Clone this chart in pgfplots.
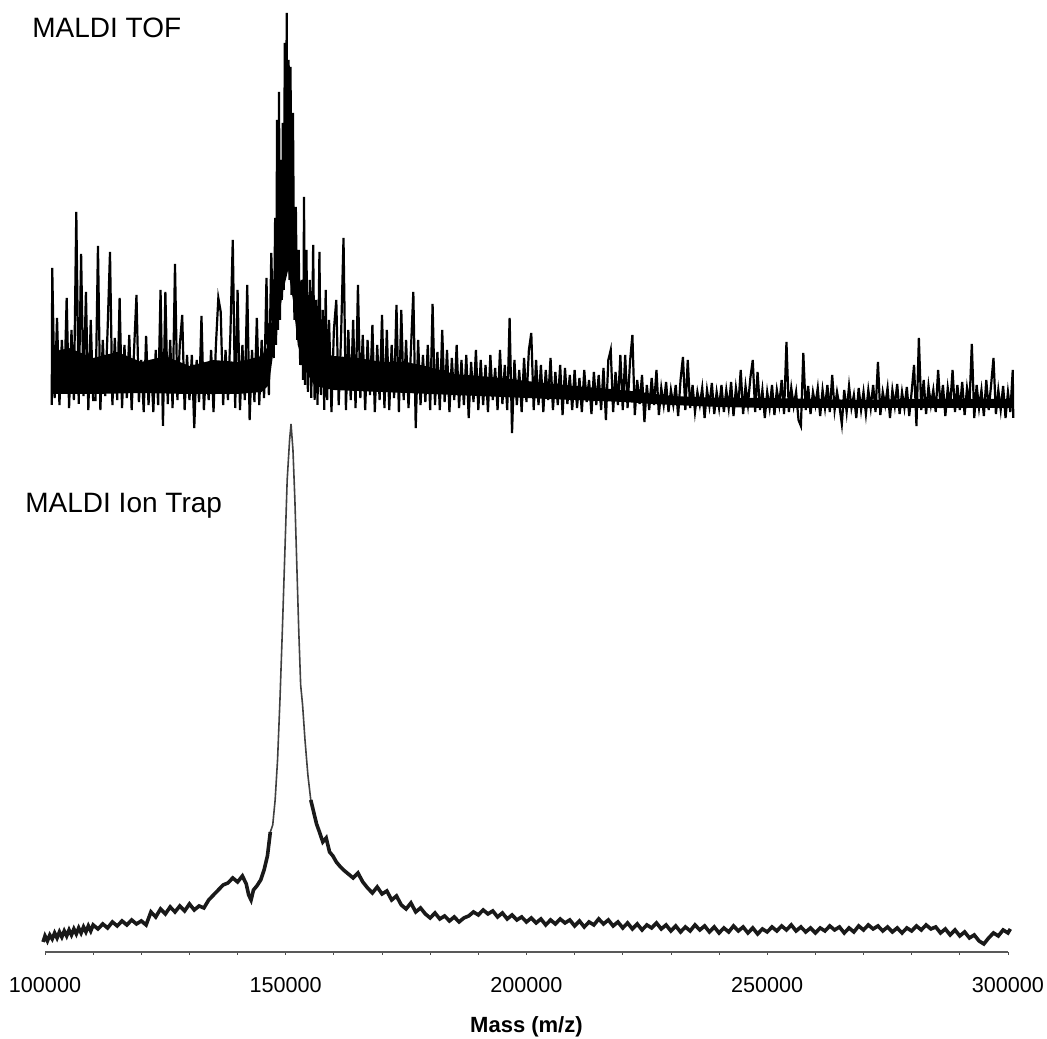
\documentclass[border=0pt]{standalone}
\usepackage{pgfplots}
\pgfplotsset{compat=1.18}
\usepackage{fontspec}
\setmainfont{Liberation Sans}
\begin{document}
\begin{tikzpicture}
\begin{axis}[
  scale only axis,
  width=481.5pt, height=476pt,
  xmin=100000, xmax=300000,
  ymin=0, ymax=952,
  y dir=reverse,
  clip=false,
  axis x line=bottom,
  axis y line=none,
  x axis line style={-, line width=1pt, draw=black!65},
  xtick={100000,150000,200000,250000,300000},
  xticklabels={100000,150000,200000,250000,300000},
  scaled x ticks=false,
  minor xtick={110000,120000,130000,140000,160000,170000,180000,190000,210000,220000,230000,240000,260000,270000,280000,290000},
  tick align=outside,
  major tick length=1.5pt, minor tick length=1.5pt,
  tick style={black!70, line width=0.4pt},
  xticklabel style={font=\fontsize{10.8}{12}\selectfont, anchor=north, inner sep=0pt, yshift=-11pt},
  ytick=\empty,
]
% MALDI TOF: dense core band (upper envelope, then lower envelope)
\addplot[fill=black, draw=none] coordinates {
(101400,352)(105000,348)(110000,358)(115000,352)(120000,362)(125000,356)(130000,366)(135000,360)(140000,362)(145000,356)(146500,345)(147500,300)(148500,200)(149500,150)(150200,110)(151000,150)(152000,230)(153000,300)(154000,335)(156000,352)(160000,356)(165000,358)(170000,362)(175000,362)(180000,367)(185000,374)(190000,376)(195000,378)(200000,381)(210000,386)(220000,390)(230000,396)(240000,398)(250000,398)(260000,399)(270000,400)(280000,399)(290000,399)(300000,399)(301100,399)
(301100,408)(290000,408)(280000,408)(270000,408)(260000,408)(250000,408)(240000,407)(230000,405)(220000,402)(210000,400)(200000,398)(190000,396)(180000,394)(170000,392)(160000,390)(156000,386)(154000,370)(152500,345)(151500,300)(150500,270)(149500,290)(148500,320)(147500,350)(146500,385)(145000,392)(140000,394)(130000,394)(120000,393)(110000,394)(101400,394)
} -- cycle;
% MALDI TOF
\addplot[black, line width=1.1pt, line join=miter] coordinates {
(101400,405)(101500,268)(102000,398)(102500,318)(103000,405)(103500,340)(104000,392)(104500,298)(105000,408)(105500,330)(106000,400)(106500,212)(107000,404)(107500,254)(108000,396)(108500,292)(109000,410)(109500,320)(110000,400)
(110500,400)(111000,246)(111500,410)(112000,340)(112500,396)(113000,330)(113500,252)(114000,405)(114500,338)(115000,400)(115500,298)(116000,408)(116500,345)(117000,398)(117500,335)(118000,410)(118500,350)(119000,295)(119500,402)(120000,360)
(120500,412)(121000,336)(121500,405)(122000,360)(122500,412)(123000,350)(123500,405)(124000,290)(124500,426)(125000,292)(125500,404)(126000,340)(126500,408)(127000,264)(127500,400)(128000,345)(128500,315)(129000,410)(129500,355)(130000,400)
(130500,355)(131000,428)(131500,360)(132000,402)(132500,316)(133000,410)(133500,365)(134000,400)(134500,350)(135000,412)(135500,345)(136000,298)(136500,312)(137000,405)(137500,350)(138000,400)(138500,335)(139000,240)(139500,408)(140000,290)
(140500,410)(141000,345)(141500,400)(142000,285)(142500,420)(143000,350)(143500,402)(144000,318)(144500,405)(145000,340)(145500,398)(146000,278)(146500,395)(147000,253)(147500,358)(147800,218)(148000,345)(148200,120)(148400,330)(148600,92)(148800,320)(149000,160)(149200,300)(149400,123)(149600,290)(149800,43)(150000,275)(150200,13)(150400,260)(150600,60)(150800,280)(151000,67)(151200,295)(151500,113)(151800,320)(152100,207)(152400,340)(152700,250)(153000,365)(153300,280)(153600,380)
(153800,197)(154000,385)(154300,250)(154600,392)(155000,280)(155300,398)(155700,245)(156000,400)(156300,300)(156600,405)(157000,252)(157300,395)(157700,310)(158000,410)(158300,290)(158600,400)(159000,320)(159500,412)(160000,330)
(160500,300)(161000,405)(161500,335)(162000,238)(162500,410)(163000,330)(163500,400)(164000,320)(164500,408)(165000,285)(165500,398)(166000,335)(166500,410)(167000,340)(167500,395)(168000,325)(168500,412)(169000,345)(169500,400)(170000,315)
(170500,408)(171000,330)(171500,410)(172000,345)(172500,398)(173000,305)(173500,412)(174000,310)(174500,400)(175000,340)(175500,408)(176000,350)(176500,292)(177000,428)(177500,340)(178000,405)(178500,355)(179000,402)(179500,345)(180000,410)
(180500,304)(181000,405)(181500,352)(182000,410)(182500,330)(183000,402)(183500,350)(184000,412)(184500,358)(185000,400)(185500,345)(186000,408)(186500,360)(187000,405)(187500,355)(188000,418)(188500,362)(189000,402)(189500,350)(190000,410)
(190500,360)(191000,405)(191500,365)(192000,412)(192500,355)(193000,400)(193500,368)(194000,410)(194500,350)(195000,404)(195500,365)(196000,410)(196500,318)(197000,433)(197500,360)(198000,405)(198500,370)(199000,412)(199500,358)(200000,402)
(200500,350)(201000,333)(201500,410)(202000,360)(202500,405)(203000,365)(203500,412)(204000,370)(204500,400)(205000,358)(205500,410)(206000,372)(206500,405)(207000,365)(207500,415)(208000,368)(208500,404)(209000,375)(209500,410)(210000,370)
(210500,408)(211000,378)(211500,412)(212000,370)(212500,402)(213000,380)(213500,414)(214000,372)(214500,405)(215000,375)(215500,410)(216000,368)(216500,420)(217000,360)(217500,350)(218000,412)(218500,372)(219000,405)(219500,355)(220000,410)
(220500,355)(221000,408)(221500,362)(222000,335)(222500,415)(223000,380)(223500,404)(224000,375)(224500,422)(225000,385)(225500,410)(226000,378)(226500,405)(227000,370)(227500,415)(228000,388)(228500,405)(229000,382)(229500,412)(230000,390)
(230500,405)(231000,385)(231500,416)(232000,380)(232500,357)(233000,410)(233500,360)(234000,408)(234500,385)(235000,412)(235500,392)(236000,405)(236500,388)(237000,418)(237500,390)(238000,406)(238500,383)(239000,414)(239500,392)(240000,408)
(240500,385)(241000,412)(241500,390)(242000,408)(242500,382)(243000,416)(243500,388)(244000,406)(244500,370)(245000,414)(245500,386)(246000,405)(246500,378)(247000,360)(247500,412)(248000,372)(248500,410)(249000,390)(249500,418)(250000,392)
(250500,408)(251000,385)(251500,415)(252000,390)(252500,405)(253000,380)(253500,414)(254000,342)(254500,412)(255000,388)(255500,406)(256000,392)(256500,420)(257000,426)(257500,353)(258000,410)(258500,386)(259000,414)(259500,392)(260000,405)
(260500,388)(261000,416)(261500,390)(262000,408)(262500,385)(263000,412)(263500,375)(264000,410)(264500,392)(265000,406)(265500,424)(266000,390)(266500,412)(267000,386)(267500,408)(268000,395)(268500,418)(269000,388)(269500,410)(270000,392)
(270500,414)(271000,390)(271500,408)(272000,385)(272500,412)(273000,362)(273500,415)(274000,392)(274500,405)(275000,388)(275500,418)(276000,390)(276500,406)(277000,384)(277500,414)(278000,392)(278500,408)(279000,387)(279500,416)(280000,392)
(280500,365)(281000,426)(281500,338)(282000,410)(282500,380)(283000,414)(283500,386)(284000,405)(284500,390)(285000,412)(285500,370)(286000,408)(286500,385)(287000,416)(287500,388)(288000,406)(288500,370)(289000,412)(289500,385)(290000,410)
(290500,382)(291000,415)(291500,388)(292000,405)(292500,344)(293000,418)(293500,385)(294000,408)(294500,390)(295000,416)(295500,380)(296000,410)(296500,385)(297000,358)(297500,414)(298000,390)(298500,410)(299000,386)(299500,418)(300000,392)(300500,412)(301000,370)(301100,418)
};
% MALDI Ion Trap: noisy left part
\addplot[black!90, line width=1.8pt] coordinates {
(99600,942)(100000,936)(100500,941)(101000,935)(101500,939)(102000,933)(102500,938)(103000,932)(103500,937)(104000,931)(104500,936)(105000,930)(105500,935)(106000,929)(106500,934)(107000,928)(107500,933)(108000,927)(108500,932)(109000,926)(109500,931)(110000,925)
(111000,929)(112000,924)(113000,928)(114000,922)(115000,926)(116000,921)(117000,925)(118000,920)(119000,924)(120000,921)(121000,925)(122000,912)(123000,917)(124000,909)(125000,914)(126000,907)(127000,912)(128000,906)(129000,911)(130000,904)
(131000,910)(132000,906)(133000,908)(134000,900)(135000,895)(136000,890)(137000,885)(138000,883)(139000,878)(140000,882)(141000,876)(141800,884)(142300,895)(142800,900)(143300,890)(144000,886)(144800,880)(145500,870)(146200,856)(146800,832)
};
% MALDI Ion Trap: main peak
\addplot[black!75, line width=0.8pt] coordinates {
(146800,832)(147300,825)(147800,800)(148300,760)(148800,700)(149300,630)(149800,555)(150300,480)(150800,440)(151100,424)
(151500,450)(151900,500)(152300,565)(152700,630)(153100,685)(153500,705)(154000,740)(154600,775)(155200,800)
};
% MALDI Ion Trap: noisy right part
\addplot[black!90, line width=1.8pt] coordinates {
(155200,800)(155800,812)(156400,824)(157000,832)(157700,842)(158400,838)(159100,852)(159800,856)(160500,862)(161200,866)(162000,870)(163000,874)(164000,878)(165000,873)(166000,882)(167000,888)(168000,893)(169000,887)(170000,894)
(171000,891)(172000,900)(173000,896)(174000,905)(175000,909)(176000,903)(177000,912)(178000,908)(179000,914)(180000,918)(181000,913)(182000,919)(183000,916)(184000,921)(185000,917)(186000,922)(187000,918)(188000,916)(189000,912)(190000,915)
(191000,910)(192000,914)(193000,911)(194000,917)(195000,913)(196000,919)(197000,915)(198000,920)(199000,917)(200000,922)(201000,918)(202000,923)(203000,919)(204000,925)(205000,920)(206000,924)(207000,919)(208000,923)(209000,920)(210000,926)
(211000,921)(212000,927)(213000,922)(214000,925)(215000,919)(216000,924)(217000,920)(218000,926)(219000,922)(220000,928)(221000,923)(222000,929)(223000,924)(224000,930)(225000,925)(226000,928)(227000,923)(228000,929)(229000,925)(230000,931)
(231000,926)(232000,932)(233000,927)(234000,931)(235000,925)(236000,930)(237000,926)(238000,932)(239000,927)(240000,933)(241000,928)(242000,932)(243000,926)(244000,931)(245000,927)(246000,933)(247000,928)(248000,934)(249000,929)(250000,932)
(251000,927)(252000,931)(253000,926)(254000,930)(255000,925)(256000,931)(257000,927)(258000,932)(259000,928)(260000,933)(261000,928)(262000,931)(263000,926)(264000,930)(265000,927)(266000,933)(267000,928)(268000,932)(269000,926)(270000,930)
(271000,925)(272000,929)(273000,926)(274000,931)(275000,927)(276000,932)(277000,928)(278000,933)(279000,928)(280000,931)(281000,926)(282000,930)(283000,925)(284000,929)(285000,927)(286000,933)(287000,929)(288000,935)(289000,930)(290000,936)
(291000,932)(292000,938)(293000,935)(294000,941)(295000,944)(296000,938)(297000,933)(298000,936)(299000,930)(300000,933)(300500,929)
};
\node[anchor=base west, inner sep=0pt, font=\fontsize{14}{16}\selectfont] at (axis cs:97300,37) {MALDI TOF};
\node[anchor=base west, inner sep=0pt, font=\fontsize{14}{16}\selectfont] at (axis cs:95846,513) {MALDI Ion Trap};
\node[anchor=center, inner sep=0pt, font=\bfseries\fontsize{11}{13}\selectfont] at (axis cs:200000,1027) {Mass (m/z)};
\coordinate (bl) at (axis cs:90653,1039);
\coordinate (tr) at (axis cs:308115,0);
\end{axis}
\pgfresetboundingbox
\path[use as bounding box] (bl) rectangle (tr);
\end{tikzpicture}
\end{document}
